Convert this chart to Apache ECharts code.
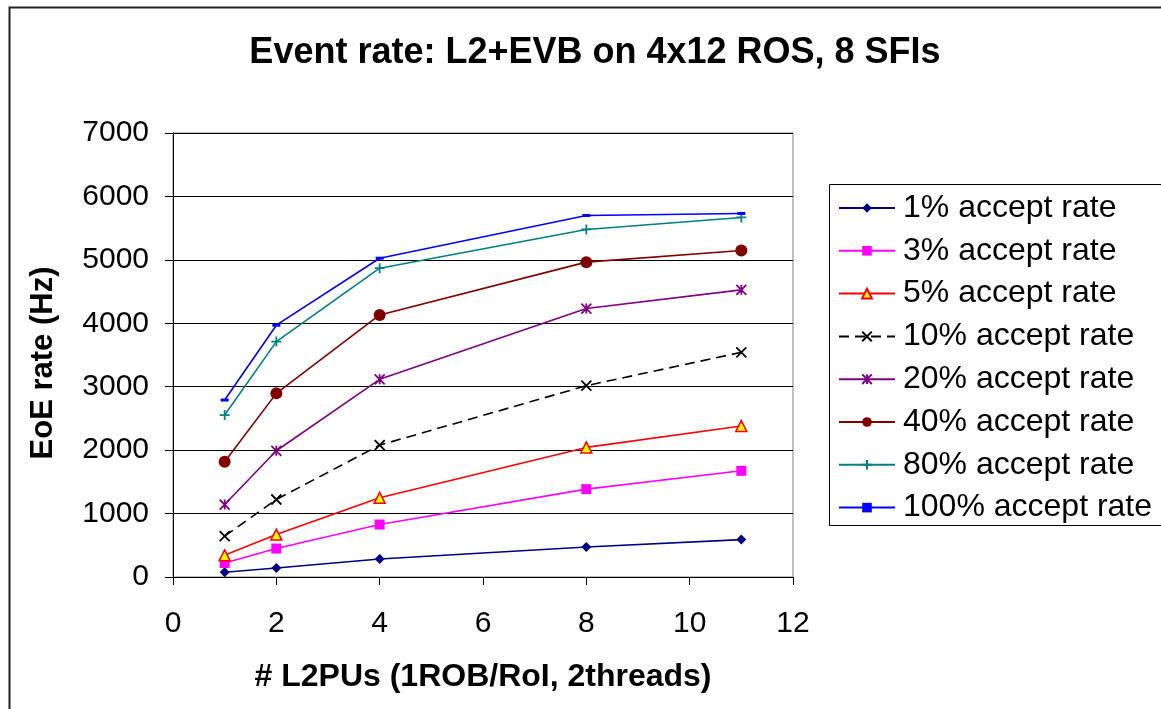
<!DOCTYPE html>
<html>
<head>
<meta charset="utf-8">
<script src="https://cdn.jsdelivr.net/npm/echarts@6/dist/echarts.min.js"></script>
<style>
html,body{margin:0;padding:0;background:#fff;}
#chart{width:1161px;height:709px;}
</style>
</head>
<body>
<div id="chart"></div>
<script>
var titleText = 'Event rate: L2+EVB on 4x12 ROS, 8 SFIs';
var xName = '# L2PUs (1ROB/RoI, 2threads)';
var yName = 'EoE rate (Hz)';
var xValues = [1, 2, 4, 8, 11];
var seriesNames = ['1% accept rate','3% accept rate','5% accept rate','10% accept rate','20% accept rate','40% accept rate','80% accept rate','100% accept rate'];
var rate1   = [74, 142, 284, 474, 590];
var rate3   = [221, 448, 827, 1385, 1674];
var rate5   = [342, 669, 1248, 2043, 2380];
var rate10  = [643, 1222, 2079, 3016, 3542];
var rate20  = [1142, 1990, 3116, 4232, 4527];
var rate40  = [1816, 2895, 4132, 4964, 5148];
var rate80  = [2553, 3711, 4869, 5479, 5669];
var rate100 = [2790, 3970, 5026, 5700, 5732];
var xTicks = [0, 2, 4, 6, 8, 10, 12];
var yTicks = [0, 1000, 2000, 3000, 4000, 5000, 6000, 7000];

var FONT = '"Liberation Sans", Arial, sans-serif';
function pairs(v){ return xValues.map(function(x,i){ return [x, v[i]]; }); }

var styles = [
  {data: rate1,   color:'#000080', symbol:'diamond', size:10, fill:'#000080', border:'#000080', bw:0},
  {data: rate3,   color:'#FF00FF', symbol:'rect', size:10, fill:'#FF00FF', border:'#FF00FF', bw:0},
  {data: rate5,   color:'#FF0000', symbol:'triangle', size:11, fill:'#FFFF00', border:'#FF0000', bw:1.5},
  {data: rate10,  color:'#000000', symbol:'path://M0,0L10,10M10,0L0,10', size:10, fill:'none', border:'#000000', bw:1.8, dash:[10,6]},
  {data: rate20,  color:'#800080', symbol:'path://M0,0L10,10M10,0L0,10M5,0L5,10', size:10, fill:'none', border:'#800080', bw:1.8},
  {data: rate40,  color:'#800000', symbol:'circle', size:12, fill:'#800000', border:'#800000', bw:0},
  {data: rate80,  color:'#008080', symbol:'path://M5,0L5,10M0,5L10,5', size:10, fill:'none', border:'#008080', bw:1.8},
  {data: rate100, color:'#0000FF', symbol:'rect', size:[8,3], fill:'#0000FF', border:'#0000FF', bw:0}
];

var series = styles.map(function(s, i){
  return {
    name: seriesNames[i],
    type: 'line',
    data: pairs(s.data),
    symbol: s.symbol,
    symbolSize: s.size,
    showAllSymbol: true,
    animation: false,
    lineStyle: {color: s.color, width: 1.6, type: s.dash || 'solid'},
    itemStyle: {color: s.fill, borderColor: s.border, borderWidth: s.bw},
    emphasis: {disabled: true}
  };
});

var chart = echarts.init(document.getElementById('chart'), null, {renderer:'canvas'});
chart.setOption({
  backgroundColor: '#fff',
  animation: false,
  title: {
    text: titleText, left: 590, top: 30, textAlign: 'center',
    textStyle: {fontFamily: FONT, fontSize: 36, fontWeight: 'bold', color: '#000'}
  },
  grid: {left: 173, right: 368, top: 133, bottom: 132, show: true, borderColor: '#808080', borderWidth: 1, backgroundColor: 'transparent'},
  xAxis: {
    type: 'value', min: 0, max: 12, interval: 2,
    name: xName, nameLocation: 'middle', nameGap: 84,
    nameTextStyle: {fontFamily: FONT, fontSize: 32, fontWeight: 'bold', color: '#000'},
    axisLine: {show: true, onZero: false, lineStyle: {color: '#000', width: 1}},
    axisTick: {show: true, inside: false, length: 8, lineStyle: {color: '#000'}},
    axisLabel: {fontFamily: FONT, fontSize: 30, color: '#000', margin: 32,
      formatter: function(v){ return xTicks.indexOf(v) >= 0 ? String(v) : ''; }},
    splitLine: {show: false}
  },
  yAxis: {
    type: 'value', min: 0, max: 7000, interval: 1000,
    name: yName, nameLocation: 'middle', nameGap: 114, nameRotate: 90,
    nameTextStyle: {fontFamily: FONT, fontSize: 31, fontWeight: 'bold', color: '#000', padding: [0, 16, 0, 0]},
    axisLine: {show: true, lineStyle: {color: '#000', width: 1}},
    axisTick: {show: true, inside: false, length: 8, lineStyle: {color: '#000'}},
    axisLabel: {fontFamily: FONT, fontSize: 30, color: '#000', margin: 24,
      formatter: function(v){ return yTicks.indexOf(v) >= 0 ? String(v) : ''; }},
    splitLine: {show: true, lineStyle: {color: '#000', width: 1}}
  },
  legend: {
    orient: 'vertical', left: 833, top: 187,
    itemWidth: 56, itemHeight: 12, itemGap: 10.8,
    data: seriesNames,
    selectedMode: false,
    textStyle: {fontFamily: FONT, fontSize: 32, color: '#000', lineHeight: 30, padding: [0,0,0,3]}
  },
  graphic: [
    {type: 'rect', left: 7, top: 5, shape: {x: 0, y: 0, width: 1200, height: 800}, style: {fill: 'none', stroke: '#222', lineWidth: 2}, silent: true, z: 100},
    {type: 'rect', shape: {x: 829.5, y: 184.5, width: 400, height: 341}, style: {fill: 'none', stroke: '#000', lineWidth: 1}, silent: true, z: 100}
  ],
  series: series
});
</script>
</body>
</html>
